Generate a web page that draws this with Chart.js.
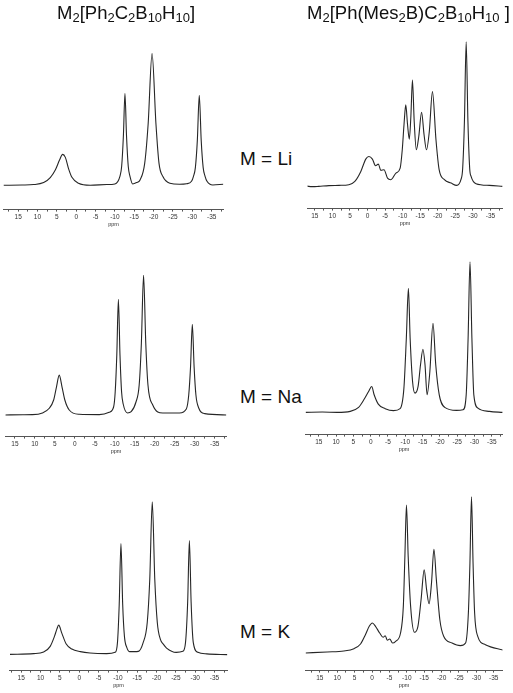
<!DOCTYPE html>
<html><head><meta charset="utf-8">
<script src="https://cdn.jsdelivr.net/npm/chart.js@4.4.0/dist/chart.umd.min.js"></script>
<style>
html,body{margin:0;padding:0;background:#fff;}
body{width:513px;height:693px;overflow:hidden;position:relative;font-family:'Liberation Sans',Arial,sans-serif;}
.t{position:absolute;font-size:18.5px;line-height:18.5px;white-space:nowrap;color:#111;z-index:2;}
.t .s{font-size:13px;position:relative;top:3.5px;}
.m{position:absolute;font-size:19px;line-height:19px;white-space:nowrap;color:#111;z-index:2;}
.w{position:absolute;}
</style></head><body>
<div class="t" style="left:57px;top:3.6px">M<span class="s">2</span>[Ph<span class="s">2</span>C<span class="s">2</span>B<span class="s">10</span>H<span class="s">10</span>]</div>
<div class="t" style="left:307px;top:3.6px">M<span class="s">2</span>[Ph(Mes<span class="s">2</span>B)C<span class="s">2</span>B<span class="s">10</span>H<span class="s">10</span> ]</div>
<div class="m" style="left:240px;top:148.7px">M = Li</div>
<div class="m" style="left:240px;top:387.4px">M = Na</div>
<div class="m" style="left:240px;top:622.4px">M = K</div>
<script>
// ---- data (ppm, intensity above baseline) ----
const l1Ppm = [18.8, 14.0, 11.0, 8.4, 6.7, 5.4, 4.3, 3.5, 2.8, 2.0, 1.1, -0.6, -3.6, -7.9, -10.0, -11.3, -11.75, -12.2, -12.6, -13.0, -13.45, -13.9, -14.6, -15.6, -16.5, -17.7, -18.6, -19.6, -20.6, -21.4, -22.4, -24.2, -26.7, -28.5, -29.8, -30.3, -30.8, -31.3, -31.8, -32.3, -32.8, -33.3, -33.8, -35.3, -38.0];
const l1Int = [0, 0.3, 0.7, 2.7, 7.7, 15.3, 25.3, 31, 28, 17, 8, 2, 0, 0.7, 1.3, 9, 19, 50, 92, 50, 19, 9, 1.3, 2.7, 5.3, 22, 62, 132, 62, 22, 8.7, 2, 1, 1.5, 4, 9, 18, 45, 90.3, 45, 18, 9, 4, 0.3, 1];

const l2Ppm = [17.7, 13.0, 10.6, 8.1, 6.4, 5.3, 4.6, 3.9, 3.2, 2.5, 1.4, -1.1, -6.1, -8.6, -9.7, -10.1, -10.5, -10.9, -11.3, -11.7, -12.1, -13.2, -14.1, -15.3, -16.1, -16.65, -17.2, -17.75, -18.3, -19.5, -22.0, -26.2, -27.9, -28.5, -28.95, -29.4, -29.85, -30.3, -31.0, -32.5, -37.9];
const l2Int = [0, 0.2, 0.3, 2, 6.7, 15, 28, 40, 28, 15, 5, 0.7, 0.3, 2.7, 8, 23, 60, 116, 60, 23, 11, 2, 3.3, 13, 30, 72, 140, 72, 30, 10, 2, 2, 6, 20, 48, 91, 48, 20, 7, 1.3, 0];

const l3Ppm = [17.9, 11.8, 9.2, 7.5, 6.4, 5.8, 5.3, 4.5, 3.4, 1.9, -0.3, -2.8, -7.1, -9.3, -9.9, -10.35, -10.8, -11.25, -11.7, -12.3, -13.1, -14.2, -15.3, -16.5, -17.6, -18.25, -18.9, -19.55, -20.2, -21.0, -21.8, -22.6, -25.1, -26.8, -27.5, -28.05, -28.5, -28.95, -29.5, -30.7, -33.0, -38.3];
const l3Int = [0, 0.7, 2.3, 8, 18, 25, 29.3, 21.3, 10.7, 5.3, 2.7, 1.3, 0.7, 2, 12, 50, 111, 50, 18, 7, 2.7, 2.7, 3, 11.3, 32, 75, 153, 75, 32, 15, 10, 6.3, 2, 3, 12, 52, 114, 52, 12, 2, 0.5, -0.3];

const r1Ppm = [18.1, 15.5, 13.9, 11.0, 8.1, 5.3, 3.6, 1.9, 0.5, -0.4, -1.4, -2.3, -3.1, -3.8, -4.7, -5.7, -6.6, -8.1, -9.3, -9.9, -10.4, -10.9, -11.4, -11.9, -12.35, -12.8, -13.3, -13.9, -14.6, -15.4, -16.1, -16.8, -17.6, -18.5, -19.5, -20.4, -21.9, -23.8, -25.4, -26.6, -27.1, -27.6, -28.1, -28.6, -29.1, -29.5, -30.9, -34.7, -38.5];
const r1Int = [0.7, -0.3, 0, 0.7, 1, 1.7, 5, 15, 27.3, 30, 27.3, 20.7, 22.3, 16, 16.7, 8.3, 6.7, 13.3, 18.3, 36.7, 62, 81.7, 62, 47.3, 70, 106.7, 65, 36.7, 50, 74.3, 52, 36.7, 55, 95, 46.7, 16.7, 6.7, 3.3, 1, 6.7, 18, 65, 145, 65, 18, 10, 2.7, 1, 0];

const r2Ppm = [18.8, 14.0, 9.7, 5.9, 3.5, 1.8, 0.6, -0.3, -1.0, -2.2, -4.2, -6.6, -8.5, -9.6, -10.3, -10.9, -11.4, -12.1, -12.8, -13.7, -14.4, -15.1, -15.7, -16.3, -17.1, -18.0, -18.8, -19.8, -21.4, -24.8, -26.7, -27.6, -28.15, -28.7, -29.25, -29.8, -31.0, -34.3, -38.2];
const r2Int = [0, 0.3, 0, 1, 5, 13.7, 21, 26, 17.7, 8.3, 3.7, 1.7, 3.7, 24.3, 74.3, 124.3, 74.3, 31, 19.3, 26, 47.7, 63.3, 47.7, 17.7, 41, 89.3, 47.7, 17.7, 5, 2, 2.7, 17.7, 74.3, 151, 74.3, 17.7, 4.3, 1, 0];

const r3Ppm = [19.1, 12.9, 8.1, 5.2, 3.3, 1.9, 0.8, -0.1, -1.0, -2.2, -3.2, -3.8, -4.4, -5.1, -5.9, -6.8, -8.2, -9.0, -9.45, -9.9, -10.4, -11.1, -12.2, -13.2, -14.1, -15.0, -15.7, -16.4, -17.1, -17.8, -18.5, -19.5, -20.6, -23.0, -25.4, -26.9, -27.7, -28.15, -28.6, -29.05, -29.5, -30.4, -32.6, -37.9];
const r3Int = [0, 1, 2, 4.3, 9, 18.3, 26.7, 30, 26.7, 20, 15.7, 17.3, 12.7, 14, 10, 11.7, 20, 46.7, 96.7, 148.3, 96.7, 46.7, 20.7, 26.7, 53.3, 83.3, 63.3, 49.3, 70, 104, 73.3, 33.3, 16.7, 10, 7.3, 10, 40, 90, 156.7, 90, 40, 16.7, 8.3, 2.7];

const axisTitle = 'ppm';

// ---- layout (page pixels) ----
const panels = [
  {ppm:l1Ppm, val:l1Int, left:3,   right:224, zeroX:76,    k:3.89,  axisY:209.7, baseY:185.3},
  {ppm:l2Ppm, val:l2Int, left:5,   right:227, zeroX:75.5,  k:3.99,  axisY:436.7, baseY:415},
  {ppm:l3Ppm, val:l3Int, left:9,   right:228, zeroX:79,    k:3.886, axisY:671,   baseY:654.7},
  {ppm:r1Ppm, val:r1Int, left:307, right:503, zeroX:368.5, k:3.5,   axisY:209,   baseY:186.7},
  {ppm:r2Ppm, val:r2Int, left:305, right:503, zeroX:370.5, k:3.48,  axisY:435,   baseY:412.7},
  {ppm:r3Ppm, val:r3Int, left:305, right:503, zeroX:371.5, k:3.48,  axisY:671,   baseY:653.3}
];
const plotH = 185, axisH = 26;
const tickFont = {family:"'Liberation Sans Narrow','Liberation Sans',Arial,sans-serif", size:6.5};

panels.forEach(p => {
  const wrap = document.createElement('div');
  wrap.className = 'w';
  wrap.style.left = p.left + 'px';
  wrap.style.width = (p.right - p.left) + 'px';
  wrap.style.top = (p.axisY - plotH) + 'px';
  wrap.style.height = (plotH + axisH) + 'px';
  const cv = document.createElement('canvas');
  wrap.appendChild(cv);
  document.body.appendChild(wrap);
  const chart = new Chart(cv, {
    type: 'line',
    data: {datasets: [{
      data: p.ppm.map((x, i) => ({x: x, y: p.val[i]})),
      borderColor: '#262626', borderWidth: 1.1, pointRadius: 0,
      cubicInterpolationMode: 'monotone', fill: false
    }]},
    options: {
      responsive: true, maintainAspectRatio: false, animation: false, events: [],
      layout: {padding: 0},
      plugins: {legend: {display: false}, tooltip: {enabled: false}},
      scales: {
        x: {
          type: 'linear', reverse: true,
          min: -(p.right - p.zeroX) / p.k, max: (p.zeroX - p.left) / p.k,
          border: {display: true, color: '#555', width: 1},
          grid: {display: true, drawOnChartArea: false, drawTicks: true, tickLength: 2, color: '#555'},
          ticks: {stepSize: 2.5, includeBounds: false, autoSkip: false, maxRotation: 0, minRotation: 0,
                  padding: 2, color: '#333', font: tickFont,
                  callback: v => (Math.abs(v / 5 - Math.round(v / 5)) < 1e-6 ? String(Math.round(v)) : '')},
          title: {display: true, text: axisTitle, color: '#333',
                  font: {family: tickFont.family, size: 5.5}, padding: {top: -2, bottom: 0}}
        },
        y: {display: false, min: 0, max: 100}
      }
    }
  });
  const ca = chart.chartArea;
  const pageLeft = p.left + ca.left, pageRight = p.left + ca.right;
  chart.options.scales.x.max = (p.zeroX - pageLeft) / p.k;
  chart.options.scales.x.min = -(pageRight - p.zeroX) / p.k;
  chart.options.scales.y.min = -(p.axisY - p.baseY);
  chart.options.scales.y.max = chart.options.scales.y.min + (ca.bottom - ca.top);
  wrap.style.top = (p.axisY - ca.bottom) + 'px';
  chart.update('none');
});
</script>
</body></html>
